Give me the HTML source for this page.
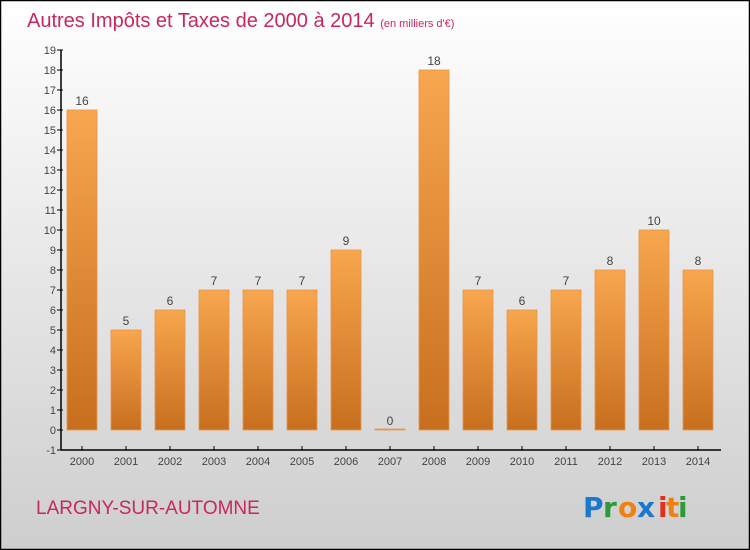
<!DOCTYPE html>
<html><head><meta charset="utf-8"><style>
body{margin:0;width:750px;height:550px;overflow:hidden}
svg{display:block;font-family:"Liberation Sans",sans-serif}
</style></head><body>
<svg id="c" width="750" height="550">
<defs>
<linearGradient id="bg" x1="0" y1="0" x2="0" y2="1"><stop offset="0" stop-color="#ffffff"/><stop offset="1" stop-color="#cecece"/></linearGradient>
<linearGradient id="bar" x1="0" y1="0" x2="0" y2="1"><stop offset="0" stop-color="#f8a64f"/><stop offset="1" stop-color="#c76f1e"/></linearGradient>
</defs>
<rect x="0.5" y="0.5" width="749" height="549" fill="url(#bg)" stroke="#000" stroke-width="1.5"/>
<text x="27" y="27" font-size="20" fill="#c8285a">Autres Impôts et Taxes de 2000 à 2014 <tspan font-size="11">(en milliers d'€)</tspan></text>
<text x="36" y="514" font-size="19" fill="#c8285a">LARGNY-SUR-AUTOMNE</text>
<g font-size="28" font-weight="bold" font-family="'DejaVu Sans',sans-serif">
<text x="583" y="517" fill="#1a78d0">P</text><text x="603" y="517" fill="#2a9a3a">r</text><text x="618" y="517" fill="#f08010">o</text><text x="637" y="517" fill="#1a78d0">x</text><text x="658" y="517" fill="#e03020">i</text><text x="666" y="517" fill="#f08010">t</text><text x="678" y="517" fill="#2a9a3a">i</text>
</g>
<g id="g"></g>
</svg>
<script>
const years=["2000","2001","2002","2003","2004","2005","2006","2007","2008","2009","2010","2011","2012","2013","2014"];
const values=[16,5,6,7,7,7,9,0,18,7,6,7,8,10,8];
const yTicks=[-1,0,1,2,3,4,5,6,7,8,9,10,11,12,13,14,15,16,17,18,19];
const NS="http://www.w3.org/2000/svg";
const g=document.getElementById('g');
const y=v=>430-(v*20);
const x=i=>82+i*44;
function mk(t,a,txt){const e=document.createElementNS(NS,t);for(const k in a)e.setAttribute(k,a[k]);if(txt!==undefined)e.textContent=txt;g.appendChild(e);return e;}
let e=mk('line',{x1:61,y1:y(19),x2:61,y2:450,stroke:'#000','stroke-width':1.5});


e=mk('line',{x1:61,y1:450,x2:721,y2:450,stroke:'#000','stroke-width':1.5});


yTicks.forEach(v=>{
 let t=mk('line',{x1:57,y1:y(v),x2:63,y2:y(v),stroke:'#000'});
 
 
 let l=mk('text',{x:56,y:y(v)+4,'font-size':11,'text-anchor':'end',fill:'#444'},v);
 
 
});
years.forEach((yr,i)=>{
 const v=values[i];
 let t=mk('line',{x1:x(i),y1:446,x2:x(i),y2:450,stroke:'#000'});
 
 
 let l=mk('text',{x:x(i),y:465,'font-size':11,'text-anchor':'middle',fill:'#444'},yr);
 
 
 const top=y(v),h=Math.max(y(0)-top,1);
 let b=mk('rect',{x:x(i)-15,y:Math.min(top,y(0)-1),width:30,height:h,fill:'url(#bar)',stroke:'#e8954a','stroke-width':0.8});
 
 
 let vl=mk('text',{x:x(i),y:top-5,'font-size':12,'text-anchor':'middle',fill:'#444'},v);
 
 
});
</script>
</body></html>
